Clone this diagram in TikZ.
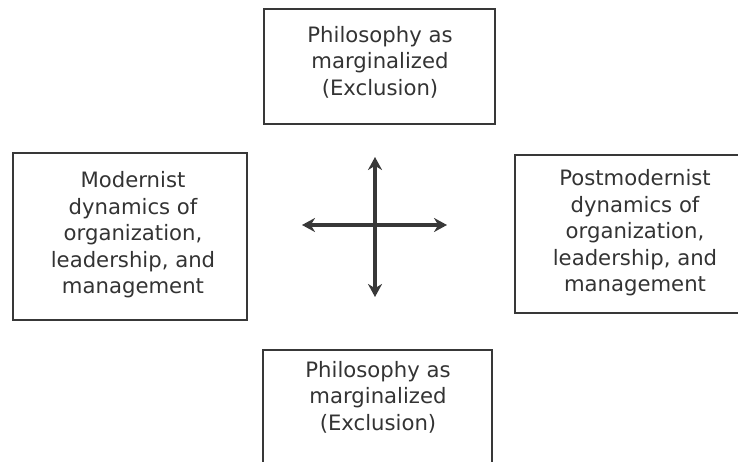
\documentclass[tikz,border=0pt]{standalone}
\usepackage{fontspec}
\setmainfont{DejaVu Sans}
\usetikzlibrary{arrows.meta}
\definecolor{ink}{HTML}{333333}
\definecolor{edge}{HTML}{383838}
\tikzset{
  boxshape/.style={draw=edge, line width=1.5pt, rectangle, inner sep=0pt},
  boxtext/.style={text=ink, align=center, font=\fontsize{21.2}{26.5}\selectfont, inner sep=0pt},
  dblarrow/.style={draw=edge, line width=3.2pt, {Stealth[length=13pt,width=14pt]}-{Stealth[length=13pt,width=14pt]}}
}
\begin{document}
\begin{tikzpicture}[x=1pt,y=-1pt]
\useasboundingbox (0,0) rectangle (738,462);
\clip (0,0) rectangle (738,462);
% top box
\node[boxshape, minimum width=231pt, minimum height=115pt] (topbox) at (379.5,66.5) {};
\node[boxtext] (toptext) at (380,62) {Philosophy as\\marginalized\\(Exclusion)};
% left box
\node[boxshape, minimum width=234pt, minimum height=167pt] (leftbox) at (130,236.5) {};
\node[boxtext] (lefttext) at (133,235) {Modernist\\dynamics of\\organization,\\leadership, and\\management};
% right box (runs past the right edge)
\node[boxshape, minimum width=240pt, minimum height=158pt] (rightbox) at (635,234) {};
\node[boxtext] (righttext) at (635,233) {Postmodernist\\dynamics of\\organization,\\leadership, and\\management};
% bottom box (runs past the bottom edge)
\node[boxshape, minimum width=229pt, minimum height=130pt] (bottombox) at (377.5,415) {};
\node[boxtext] (bottomtext) at (378,397) {Philosophy as\\marginalized\\(Exclusion)};
% cross of arrows
\coordinate (up) at (375,157);
\coordinate (down) at (375,297);
\coordinate (west) at (302,225);
\coordinate (east) at (447,225);
\draw[dblarrow] (west) -- (east);
\draw[dblarrow] (down) -- (up);
\end{tikzpicture}
\end{document}
